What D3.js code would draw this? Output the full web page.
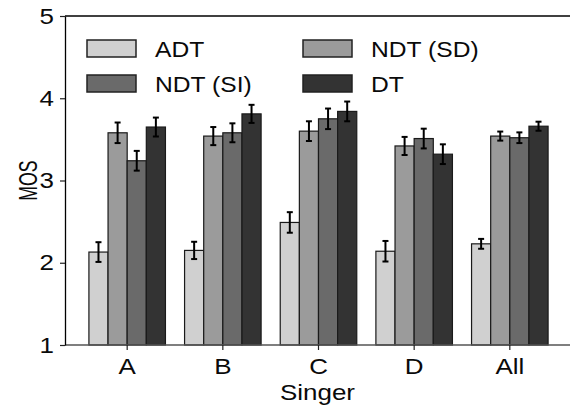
<!DOCTYPE html>
<html>
<head>
<meta charset="utf-8">
<script src="https://cdn.jsdelivr.net/npm/d3@7"></script>
<style>
  body { margin: 0; background: #fff; }
  text { font-family: "Liberation Sans", Arial, sans-serif; fill: #0a0a0a; }
</style>
</head>
<body>
<div class="chart"></div>
<script>
// Data
var categories = ["A", "B", "C", "D", "All"];
var seriesNames = ["ADT", "NDT (SD)", "NDT (SI)", "DT"];
var adt = [2.13, 2.15, 2.49, 2.14, 2.23];
var ndtSD = [3.58, 3.54, 3.60, 3.42, 3.54];
var ndtSI = [3.24, 3.58, 3.75, 3.51, 3.52];
var dt = [3.65, 3.81, 3.84, 3.32, 3.66];
var adtErr = [0.12, 0.105, 0.125, 0.125, 0.06];
var ndtSDErr = [0.125, 0.11, 0.12, 0.11, 0.055];
var ndtSIErr = [0.12, 0.115, 0.125, 0.12, 0.065];
var dtErr = [0.115, 0.11, 0.12, 0.12, 0.055];
var yTicks = [1, 2, 3, 4, 5];

var colors = ["#d0d0d0", "#9b9b9b", "#6a6a6a", "#333333"];

renderChart();

function renderChart() {
  var values = [adt, ndtSD, ndtSI, dt];
  var errors = [adtErr, ndtSDErr, ndtSIErr, dtErr];

  var svgWidth = 570;
  var svgHeight = 410;
  var margin = { top: 16, left: 65 };
  var plotRight = 572, plotBottom = 345;
  var stretch = 1.18; // the figure is a bit wider than tall

  var svg = d3.select(".chart")
    .append("svg")
    .attr("width", svgWidth)
    .attr("height", svgHeight);

  // Scales
  var x0 = d3.scaleBand()
    .domain(categories)
    .range([margin.left, plotRight])
    .paddingInner(0.2)
    .paddingOuter(0.25);

  var x1 = d3.scaleBand()
    .domain(seriesNames)
    .range([0, x0.bandwidth()]);

  var y = d3.scaleLinear()
    .domain([1, 5])
    .range([plotBottom, margin.top]);

  // flat table for bars
  var rows = [];
  categories.forEach(function(c, i) {
    seriesNames.forEach(function(s, j) {
      rows.push({ cat: c, series: s, idx: j, value: values[j][i], err: errors[j][i] });
    });
  });

  // Bars
  svg.append("g")
    .selectAll("rect")
    .data(rows)
    .enter()
    .append("rect")
    .attr("x", function(d) { return x0(d.cat) + x1(d.series); })
    .attr("y", function(d) { return y(d.value); })
    .attr("width", x1.bandwidth())
    .attr("height", function(d) { return plotBottom - y(d.value); })
    .attr("fill", function(d) { return colors[d.idx]; })
    .attr("stroke", "#1a1a1a")
    .attr("stroke-width", 1.2);

  // Error bars
  var errG = svg.append("g")
    .attr("stroke", "#000")
    .attr("stroke-width", 2);

  var bars = errG.selectAll("g")
    .data(rows)
    .enter()
    .append("g")
    .attr("transform", function(d) {
      return "translate(" + (x0(d.cat) + x1(d.series) + x1.bandwidth() / 2) + ",0)";
    });

  bars.append("line")
    .attr("y1", function(d) { return y(d.value + d.err); })
    .attr("y2", function(d) { return y(d.value - d.err); });
  bars.append("line")
    .attr("x1", -3).attr("x2", 3)
    .attr("y1", function(d) { return y(d.value + d.err); })
    .attr("y2", function(d) { return y(d.value + d.err); });
  bars.append("line")
    .attr("x1", -3).attr("x2", 3)
    .attr("y1", function(d) { return y(d.value - d.err); })
    .attr("y2", function(d) { return y(d.value - d.err); });

  // X axis
  var xAxis = svg.append("g")
    .attr("transform", "translate(0," + plotBottom + ")")
    .call(d3.axisBottom(x0).tickSize(5).tickSizeOuter(0).tickPadding(8));
  xAxis.select(".domain").attr("stroke", "#555").attr("stroke-width", 1.6)
    .attr("d", "M" + margin.left + ",0H" + svgWidth);
  xAxis.selectAll(".tick line").attr("stroke", "#222").attr("stroke-width", 1.2);
  xAxis.selectAll(".tick text")
    .attr("font-size", "22px")
    .attr("font-family", "Liberation Sans, Arial, sans-serif")
    .attr("fill", "#0a0a0a")
    .attr("transform", "scale(" + stretch + ",1)");

  // Y axis
  var yAxis = svg.append("g")
    .attr("transform", "translate(" + margin.left + ",0)")
    .call(d3.axisLeft(y).tickValues(yTicks).tickFormat(d3.format("d"))
      .tickSize(5).tickSizeOuter(0).tickPadding(6));
  yAxis.select(".domain").attr("stroke", "#000").attr("stroke-width", 1.3);
  yAxis.selectAll(".tick line").attr("stroke", "#222").attr("stroke-width", 1.2);
  yAxis.selectAll(".tick text")
    .attr("font-size", "22px")
    .attr("font-family", "Liberation Sans, Arial, sans-serif")
    .attr("fill", "#0a0a0a")
    .attr("x", -11 / stretch)
    .attr("transform", "scale(" + stretch + ",1)");

  // top frame line
  svg.append("line")
    .attr("x1", margin.left).attr("x2", svgWidth)
    .attr("y1", y(5)).attr("y2", y(5))
    .attr("stroke", "#000")
    .attr("stroke-width", 1.3);

  // Axis titles
  svg.append("text")
    .attr("transform", "translate(" + ((margin.left + svgWidth) / 2) + ",400) scale(" + stretch + ",1)")
    .attr("text-anchor", "middle")
    .attr("font-size", "22px")
    .text("Singer");

  svg.append("text")
    .attr("transform", "translate(37," + ((margin.top + plotBottom) / 2) + ") rotate(-90) scale(0.68,1)")
    .attr("text-anchor", "middle")
    .attr("font-size", "26px")
    .text("MOS");

  // Legend
  var legendPos = [[87, 40], [303, 40], [87, 75], [303, 75]];
  var legend = svg.selectAll(".legend")
    .data(seriesNames)
    .enter()
    .append("g")
    .attr("class", "legend")
    .attr("transform", function(d, i) {
      return "translate(" + legendPos[i][0] + "," + legendPos[i][1] + ")";
    });

  legend.append("rect")
    .attr("width", 49)
    .attr("height", 17)
    .attr("fill", function(d, i) { return colors[i]; })
    .attr("stroke", "#222")
    .attr("stroke-width", 1.5);

  legend.append("text")
    .attr("transform", "translate(68,17) scale(1.12,1)")
    .attr("font-size", "22px")
    .text(function(d) { return d; });
}
</script>
</body>
</html>
